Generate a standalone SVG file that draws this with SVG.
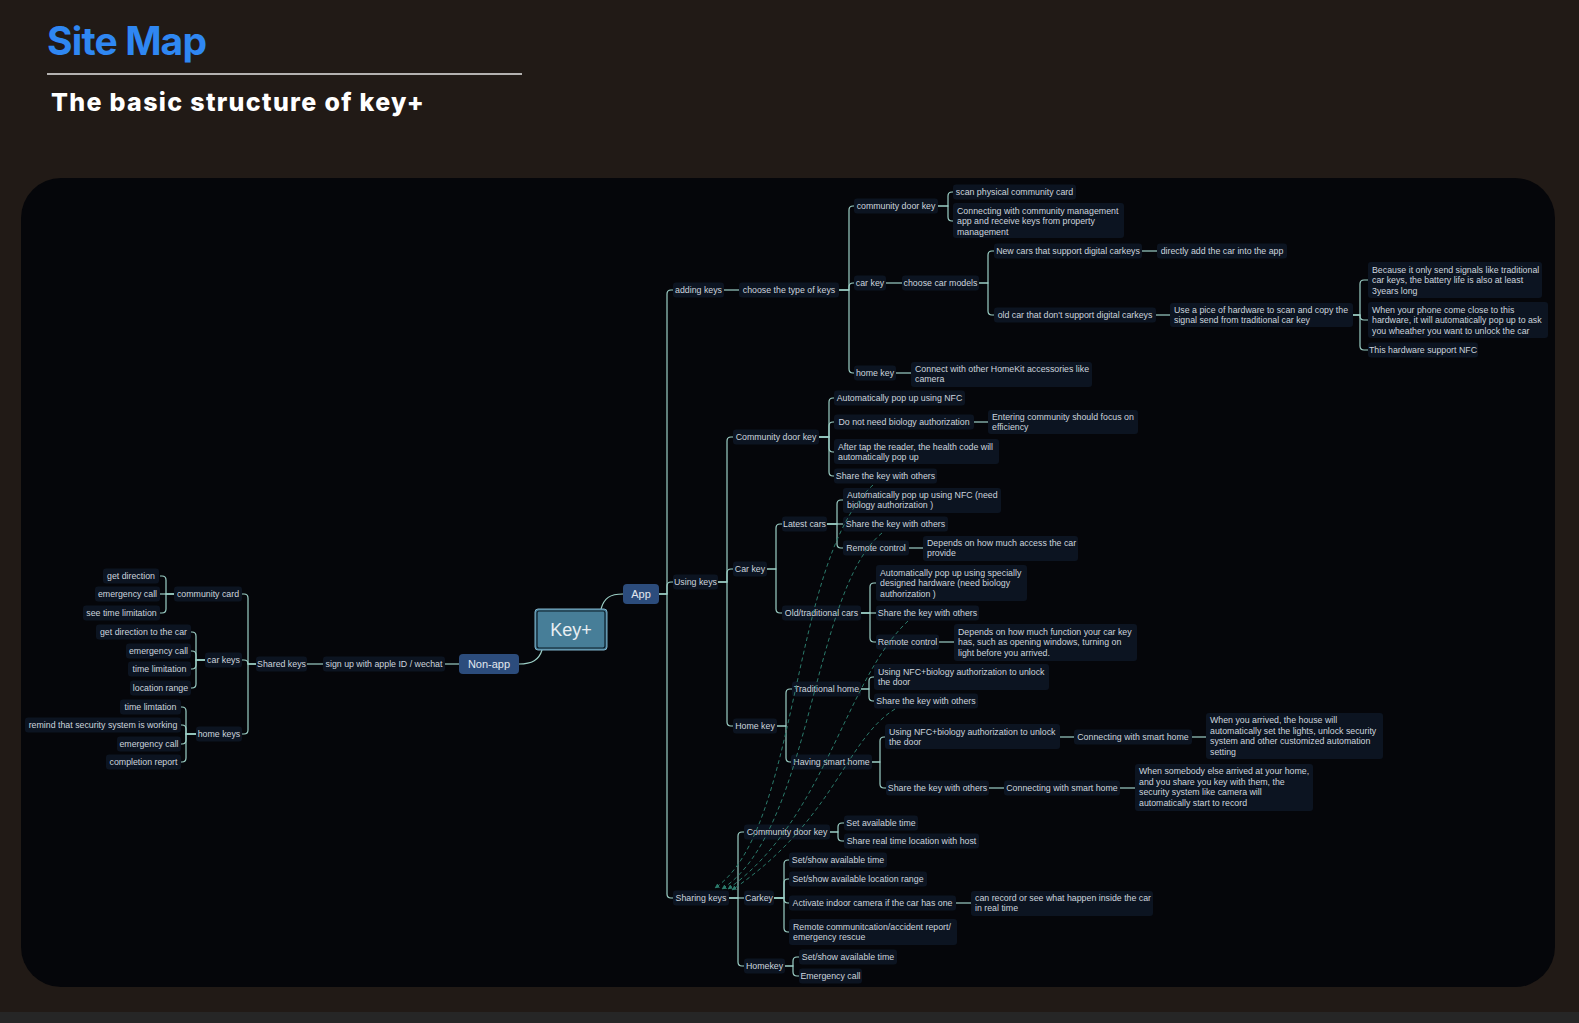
<svg xmlns="http://www.w3.org/2000/svg" width="1579" height="1023" viewBox="0 0 1579 1023">
<defs>
<style>
.n rect{fill:#0c1421}
.n text{font-family:'Liberation Sans',Arial,sans-serif;font-size:8.8px;fill:#cdd5de}
.s text{text-anchor:middle}
.c path{fill:none;stroke:#9ccfc6;stroke-width:1.2}
.r path{fill:none;stroke:#2b7a6b;stroke-width:1;stroke-dasharray:4 3}
.b rect{fill:#2c4c7c}
.b text{font-family:'Liberation Sans',Arial,sans-serif;font-size:11px;fill:#e2e8ef;text-anchor:middle}
</style>
<marker id="ah" viewBox="0 0 10 10" refX="9" refY="5" markerWidth="5" markerHeight="5" orient="auto-start-reverse">
<path d="M0,0L10,5L0,10z" fill="#2b7a6b"/>
</marker>
</defs>
<rect width="1579" height="1023" fill="#211a16"/>
<rect y="1012" width="1579" height="11" fill="#262626"/>
<text x="47" y="55" font-family="Inter,'Liberation Sans',sans-serif" font-weight="700" font-size="39" fill="#2f87f2" textLength="160">Site Map</text>
<line x1="47" y1="74" x2="522" y2="74" stroke="#e6e6e6" stroke-width="1.5"/>
<text x="51" y="111" font-family="Inter,'Liberation Sans',sans-serif" font-weight="800" font-size="25" fill="#ffffff" textLength="373">The basic structure of key+</text>
<rect x="21" y="178" width="1534" height="809" rx="40" fill="#05060a"/>

<g id="connectors" class="c">
<path d="M601,609C604,598 610,594 623,594"/>
<path d="M542,650C539,660 532,664 519,664"/>
<path d="M459,664H445"/>
<path d="M323,664H307"/>
<path d="M256,664H248V598Q248,594 244,594H242"/>
<path d="M256,664H248V664Q248,660 244,660H242"/>
<path d="M256,664H248V730Q248,734 244,734H242"/>
<path d="M174,594H166V580Q166,576 162,576H160"/>
<path d="M174,594H160"/>
<path d="M174,594H166V609Q166,613 162,613H160"/>
<path d="M205,660H196V636Q196,632 192,632H191"/>
<path d="M205,660H196V655Q196,651 192,651H191"/>
<path d="M205,660H196V665Q196,669 192,669H191"/>
<path d="M205,660H196V684Q196,688 192,688H191"/>
<path d="M196,734H186V711Q186,707 182,707H181"/>
<path d="M196,734H186V729Q186,725 182,725H181"/>
<path d="M196,734H186V740Q186,744 182,744H181"/>
<path d="M196,734H186V758Q186,762 182,762H181"/>
<path d="M659,594H667V294Q667,290 671,290H673"/>
<path d="M659,594H667V586Q667,582 671,582H673"/>
<path d="M659,594H667V894Q667,898 671,898H673"/>
<path d="M724,290H739"/>
<path d="M839,290H849V210Q849,206 853,206H854"/>
<path d="M839,290H849V287Q849,283 853,283H854"/>
<path d="M839,290H849V369Q849,373 853,373H854"/>
<path d="M938,206H948V196Q948,192 952,192H953"/>
<path d="M938,206H948V217Q948,221 952,221H953"/>
<path d="M886,283H902"/>
<path d="M979,283H988V255Q988,251 992,251H994"/>
<path d="M979,283H988V311Q988,315 992,315H994"/>
<path d="M1142,251H1157"/>
<path d="M1156,315H1170"/>
<path d="M1353,315H1360V284Q1360,280 1364,280H1368"/>
<path d="M1353,315H1360V316Q1360,320 1364,320H1368"/>
<path d="M1353,315H1360V346Q1360,350 1364,350H1368"/>
<path d="M896,373H911"/>
<path d="M718,582H727V441Q727,437 731,437H733"/>
<path d="M718,582H727V573Q727,569 731,569H733"/>
<path d="M718,582H727V722Q727,726 731,726H733"/>
<path d="M819,437H829V402Q829,398 833,398H834"/>
<path d="M819,437H829V426Q829,422 833,422H834"/>
<path d="M819,437H829V448Q829,452 833,452H834"/>
<path d="M819,437H829V472Q829,476 833,476H834"/>
<path d="M974,422H988"/>
<path d="M767,569H776V528Q776,524 780,524H782"/>
<path d="M767,569H776V609Q776,613 780,613H782"/>
<path d="M827,524H837V504Q837,500 841,500H843"/>
<path d="M827,524H843"/>
<path d="M827,524H837V544Q837,548 841,548H843"/>
<path d="M909,548H923"/>
<path d="M861,613H870V587Q870,583 874,583H876"/>
<path d="M861,613H876"/>
<path d="M861,613H870V638Q870,642 874,642H876"/>
<path d="M939,642H954"/>
<path d="M777,726H786V693Q786,689 790,689H792"/>
<path d="M777,726H786V758Q786,762 790,762H791"/>
<path d="M861,689H869V681Q869,677 873,677H874"/>
<path d="M861,689H869V697Q869,701 873,701H874"/>
<path d="M872,762H880V741Q880,737 884,737H885"/>
<path d="M872,762H880V784Q880,788 884,788H886"/>
<path d="M1060,737H1074"/>
<path d="M1192,737H1206"/>
<path d="M989,788H1004"/>
<path d="M1120,788H1135"/>
<path d="M729,898H738V836Q738,832 742,832H744"/>
<path d="M729,898H744"/>
<path d="M729,898H738V962Q738,966 742,966H744"/>
<path d="M830,832H838V827Q838,823 842,823H844"/>
<path d="M830,832H838V837Q838,841 842,841H844"/>
<path d="M774,898H784V864Q784,860 788,860H789"/>
<path d="M774,898H784V883Q784,879 788,879H789"/>
<path d="M774,898H784V899Q784,903 788,903H789"/>
<path d="M774,898H784V928Q784,932 788,932H789"/>
<path d="M956,903H971"/>
<path d="M785,966H793V961Q793,957 797,957H799"/>
<path d="M785,966H793V972Q793,976 797,976H799"/>
</g>

<g id="root">
<rect x="535" y="609" width="72" height="41" rx="3" fill="#477e98" stroke="#7fb0c8" stroke-width="1"/>
<rect x="537" y="611" width="68" height="37" rx="2" fill="none" stroke="#0b1a25" stroke-width="1.2"/>
<text x="571" y="636" font-family="'Liberation Sans',Arial,sans-serif" font-size="18" fill="#e8eef2" text-anchor="middle">Key+</text>
</g>
<g id="app" class="b"><rect x="623" y="584" width="36" height="20" rx="4"/><text x="641" y="598">App</text></g>
<g id="nonapp" class="b"><rect x="459" y="654" width="60" height="20" rx="4"/><text x="489" y="668">Non-app</text></g>

<g class="n s">
<g id="l-signup"><rect x="323" y="656.5" width="122" height="15" rx="3"/><text x="384" y="667">sign up with apple ID / wechat</text></g>
<g id="l-shared"><rect x="256" y="656.5" width="51" height="15" rx="3"/><text x="281.5" y="667">Shared keys</text></g>
<g id="l-cc"><rect x="174" y="586.5" width="68" height="15" rx="3"/><text x="208" y="597">community card</text></g>
<g id="l-cc1"><rect x="103" y="568.5" width="56" height="15" rx="3"/><text x="131" y="579">get direction</text></g>
<g id="l-cc2"><rect x="95" y="586.5" width="65" height="15" rx="3"/><text x="127.5" y="597">emergency call</text></g>
<g id="l-cc3"><rect x="83" y="605.5" width="77" height="15" rx="3"/><text x="121.5" y="616">see time limitation</text></g>
<g id="l-ck"><rect x="205" y="652.5" width="37" height="15" rx="3"/><text x="223.5" y="663">car keys</text></g>
<g id="l-ck1"><rect x="96" y="624.5" width="95" height="15" rx="3"/><text x="143.5" y="635">get direction to the car</text></g>
<g id="l-ck2"><rect x="126" y="643.5" width="65" height="15" rx="3"/><text x="158.5" y="654">emergency call</text></g>
<g id="l-ck3"><rect x="128" y="661.5" width="63" height="15" rx="3"/><text x="159.5" y="672">time limitation</text></g>
<g id="l-ck4"><rect x="130" y="680.5" width="61" height="15" rx="3"/><text x="160.5" y="691">location range</text></g>
<g id="l-hk"><rect x="196" y="726.5" width="46" height="15" rx="3"/><text x="219" y="737">home keys</text></g>
<g id="l-hk1"><rect x="120" y="699.5" width="61" height="15" rx="3"/><text x="150.5" y="710">time limtation</text></g>
<g id="l-hk2"><rect x="25" y="717.5" width="156" height="15" rx="3"/><text x="103" y="728">remind that security system is working</text></g>
<g id="l-hk3"><rect x="117" y="736.5" width="64" height="15" rx="3"/><text x="149" y="747">emergency call</text></g>
<g id="l-hk4"><rect x="106" y="754.5" width="75" height="15" rx="3"/><text x="143.5" y="765">completion report</text></g>

<g id="a-adding"><rect x="673" y="282.5" width="51" height="15" rx="3"/><text x="698.5" y="293">adding keys</text></g>
<g id="a-choose"><rect x="739" y="282.5" width="100" height="15" rx="3"/><text x="789" y="293">choose the type of keys</text></g>
<g id="a-cdk"><rect x="854" y="198.5" width="84" height="15" rx="3"/><text x="896" y="209">community door key</text></g>
<g id="a-scan"><rect x="953" y="184.5" width="123" height="15" rx="3"/><text x="1014.5" y="195">scan physical community card</text></g>
<g id="a-car"><rect x="854" y="275.5" width="32" height="15" rx="3"/><text x="870" y="286">car key</text></g>
<g id="a-models"><rect x="902" y="275.5" width="77" height="15" rx="3"/><text x="940.5" y="286">choose car models</text></g>
<g id="a-new"><rect x="994" y="243.5" width="148" height="15" rx="3"/><text x="1068" y="254">New cars that support digital carkeys</text></g>
<g id="a-direct"><rect x="1157" y="243.5" width="130" height="15" rx="3"/><text x="1222" y="254">directly add the car into the app</text></g>
<g id="a-old"><rect x="994" y="307.5" width="162" height="15" rx="3"/><text x="1075" y="318">old car that don't support digital carkeys</text></g>
<g id="a-nfc"><rect x="1368" y="342.5" width="110" height="15" rx="3"/><text x="1423" y="353">This hardware support NFC</text></g>
<g id="a-home"><rect x="854" y="365.5" width="42" height="15" rx="3"/><text x="875" y="376">home key</text></g>

<g id="u-using"><rect x="673" y="574.5" width="45" height="15" rx="3"/><text x="695.5" y="585">Using keys</text></g>
<g id="u-cdk"><rect x="733" y="429.5" width="86" height="15" rx="3"/><text x="776" y="440">Community door key</text></g>
<g id="u-cdk1"><rect x="834" y="390.5" width="131" height="15" rx="3"/><text x="899.5" y="401">Automatically pop up using NFC</text></g>
<g id="u-cdk2"><rect x="834" y="414.5" width="140" height="15" rx="3"/><text x="904" y="425">Do not need biology authorization</text></g>
<g id="u-cdk4"><rect x="834" y="468.5" width="103" height="15" rx="3"/><text x="885.5" y="479">Share the key with others</text></g>
<g id="u-car"><rect x="733" y="561.5" width="34" height="15" rx="3"/><text x="750" y="572">Car key</text></g>
<g id="u-latest"><rect x="782" y="516.5" width="45" height="15" rx="3"/><text x="804.5" y="527">Latest cars</text></g>
<g id="u-latest2"><rect x="843" y="516.5" width="105" height="15" rx="3"/><text x="895.5" y="527">Share the key with others</text></g>
<g id="u-latest3"><rect x="843" y="540.5" width="66" height="15" rx="3"/><text x="876" y="551">Remote control</text></g>
<g id="u-oldcar"><rect x="782" y="605.5" width="79" height="15" rx="3"/><text x="821.5" y="616">Old/traditional cars</text></g>
<g id="u-oldcar2"><rect x="876" y="605.5" width="103" height="15" rx="3"/><text x="927.5" y="616">Share the key with others</text></g>
<g id="u-oldcar3"><rect x="876" y="634.5" width="63" height="15" rx="3"/><text x="907.5" y="645">Remote control</text></g>
<g id="u-home"><rect x="733" y="718.5" width="44" height="15" rx="3"/><text x="755" y="729">Home key</text></g>
<g id="u-trad"><rect x="792" y="681.5" width="69" height="15" rx="3"/><text x="826.5" y="692">Traditional home</text></g>
<g id="u-trad2"><rect x="874" y="693.5" width="104" height="15" rx="3"/><text x="926" y="704">Share the key with others</text></g>
<g id="u-smart"><rect x="791" y="754.5" width="81" height="15" rx="3"/><text x="831.5" y="765">Having smart home</text></g>
<g id="u-smartconn1"><rect x="1074" y="729.5" width="118" height="15" rx="3"/><text x="1133" y="740">Connecting with smart home</text></g>
<g id="u-smart2"><rect x="886" y="780.5" width="103" height="15" rx="3"/><text x="937.5" y="791">Share the key with others</text></g>
<g id="u-smartconn2"><rect x="1004" y="780.5" width="116" height="15" rx="3"/><text x="1062" y="791">Connecting with smart home</text></g>

<g id="s-sharing"><rect x="673" y="890.5" width="56" height="15" rx="3"/><text x="701" y="901">Sharing keys</text></g>
<g id="s-cdk"><rect x="744" y="824.5" width="86" height="15" rx="3"/><text x="787" y="835">Community door key</text></g>
<g id="s-cdk1"><rect x="844" y="815.5" width="74" height="15" rx="3"/><text x="881" y="826">Set available time</text></g>
<g id="s-cdk2"><rect x="844" y="833.5" width="135" height="15" rx="3"/><text x="911.5" y="844">Share real time location with host</text></g>
<g id="s-car"><rect x="744" y="890.5" width="30" height="15" rx="3"/><text x="759" y="901">Carkey</text></g>
<g id="s-car1"><rect x="789" y="852.5" width="98" height="15" rx="3"/><text x="838" y="863">Set/show available time</text></g>
<g id="s-car2"><rect x="789" y="871.5" width="138" height="15" rx="3"/><text x="858" y="882">Set/show available location range</text></g>
<g id="s-car3"><rect x="789" y="895.5" width="167" height="15" rx="3"/><text x="872.5" y="906">Activate indoor camera if the car has one</text></g>
<g id="s-home"><rect x="744" y="958.5" width="41" height="15" rx="3"/><text x="764.5" y="969">Homekey</text></g>
<g id="s-home1"><rect x="799" y="949.5" width="98" height="15" rx="3"/><text x="848" y="960">Set/show available time</text></g>
<g id="s-home2"><rect x="799" y="968.5" width="63" height="15" rx="3"/><text x="830.5" y="979">Emergency call</text></g>
</g>

<g class="n">
<g id="m-connect"><rect x="953" y="203" width="171" height="35" rx="3"/><text><tspan x="957" y="213.5">Connecting with community management</tspan><tspan x="957" y="224.2">app and receive keys from property</tspan><tspan x="957" y="234.9">management</tspan></text></g>
<g id="m-pice"><rect x="1170" y="303" width="183" height="24" rx="3"/><text><tspan x="1174" y="312.6">Use a pice of hardware to scan and copy the</tspan><tspan x="1174" y="323.3">signal send from traditional car key</tspan></text></g>
<g id="m-battery"><rect x="1368" y="262" width="174" height="36" rx="3"/><text><tspan x="1372" y="272.5">Because it only send signals like traditional</tspan><tspan x="1372" y="283.2">car keys, the battery life is also at least</tspan><tspan x="1372" y="293.9">3years long</tspan></text></g>
<g id="m-phone"><rect x="1368" y="302" width="180" height="36" rx="3"/><text><tspan x="1372" y="312.5">When your phone come close to this</tspan><tspan x="1372" y="323.2">hardware, it will automatically pop up to ask</tspan><tspan x="1372" y="333.9">you wheather you want to unlock the car</tspan></text></g>
<g id="m-homekit"><rect x="911" y="362" width="181" height="25" rx="3"/><text><tspan x="915" y="371.6">Connect with other HomeKit accessories like</tspan><tspan x="915" y="382.3">camera</tspan></text></g>
<g id="m-entering"><rect x="988" y="410" width="150" height="24" rx="3"/><text><tspan x="992" y="419.6">Entering community should focus on</tspan><tspan x="992" y="430.3">efficiency</tspan></text></g>
<g id="m-health"><rect x="834" y="439" width="165" height="25" rx="3"/><text><tspan x="838" y="449.6">After tap the reader, the health code will</tspan><tspan x="838" y="460.3">automatically pop up</tspan></text></g>
<g id="m-latest1"><rect x="843" y="488" width="158" height="25" rx="3"/><text><tspan x="847" y="497.6">Automatically pop up using NFC (need</tspan><tspan x="847" y="508.3">biology authorization )</tspan></text></g>
<g id="m-access"><rect x="923" y="536" width="155" height="25" rx="3"/><text><tspan x="927" y="545.6">Depends on how much access the car</tspan><tspan x="927" y="556.3">provide</tspan></text></g>
<g id="m-old1"><rect x="876" y="565" width="151" height="36" rx="3"/><text><tspan x="880" y="575.5">Automatically pop up using specially</tspan><tspan x="880" y="586.2">designed hardware (need biology</tspan><tspan x="880" y="596.9">authorization )</tspan></text></g>
<g id="m-function"><rect x="954" y="624" width="183" height="37" rx="3"/><text><tspan x="958" y="634.5">Depends on how much function your car key</tspan><tspan x="958" y="645.2">has, such as opening windows, turning on</tspan><tspan x="958" y="655.9">light before you arrived.</tspan></text></g>
<g id="m-trad1"><rect x="874" y="664" width="175" height="26" rx="3"/><text><tspan x="878" y="674.6">Using NFC+biology authorization to unlock</tspan><tspan x="878" y="685.3">the door</tspan></text></g>
<g id="m-smart1"><rect x="885" y="724" width="175" height="25" rx="3"/><text><tspan x="889" y="734.6">Using NFC+biology authorization to unlock</tspan><tspan x="889" y="745.3">the door</tspan></text></g>
<g id="m-arrived"><rect x="1206" y="713" width="177" height="46" rx="3"/><text><tspan x="1210" y="723">When you arrived, the house will</tspan><tspan x="1210" y="733.7">automatically set the lights, unlock security</tspan><tspan x="1210" y="744.4">system and other customized automation</tspan><tspan x="1210" y="755.1">setting</tspan></text></g>
<g id="m-somebody"><rect x="1135" y="764" width="178" height="47" rx="3"/><text><tspan x="1139" y="774">When somebody else arrived at your home,</tspan><tspan x="1139" y="784.7">and you share you key with them, the</tspan><tspan x="1139" y="795.4">security system like camera will</tspan><tspan x="1139" y="806.1">automatically start to record</tspan></text></g>
<g id="m-record"><rect x="971" y="891" width="182" height="25" rx="3"/><text><tspan x="975" y="900.6">can record or see what happen inside the car</tspan><tspan x="975" y="911.3">in real time</tspan></text></g>
<g id="m-remote"><rect x="789" y="919" width="168" height="26" rx="3"/><text><tspan x="793" y="929.6">Remote communitcation/accident report/</tspan><tspan x="793" y="940.3">emergency rescue</tspan></text></g>
</g>

<g id="relations" class="r">
<path d="M873,485C790,560 800,830 715,888" marker-end="url(#ah)"/>
<path d="M882,533C812,590 812,830 722,889" marker-end="url(#ah)"/>
<path d="M908,621C845,680 825,820 728,889" marker-end="url(#ah)"/>
<path d="M895,709C845,740 835,820 732,890" marker-end="url(#ah)"/>
</g>
</svg>
